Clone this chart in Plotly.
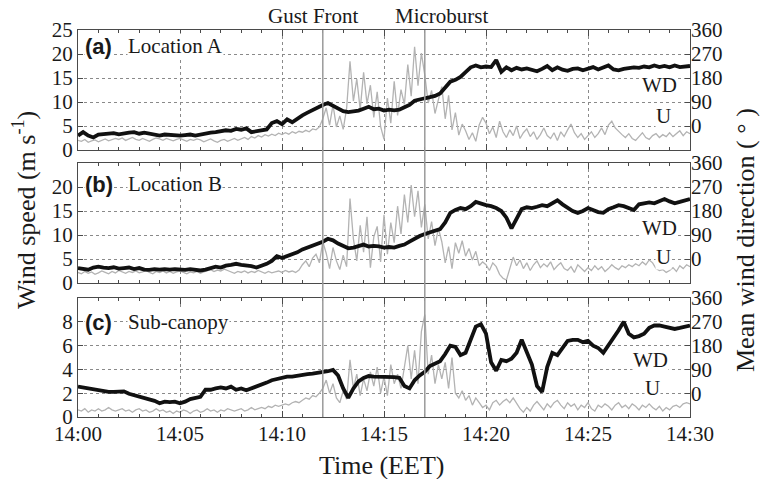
import numpy as np
import plotly.graph_objects as go

# ---------------- data ----------------
time_ticks = [0, 5, 10, 15, 20, 25, 30]
time_labels = ["14:00", "14:05", "14:10", "14:15", "14:20", "14:25", "14:30"]

# wind speed U (m/s), 10-s samples from 14:00 to 14:30
u_a = [2.0, 1.8, 2.2, 1.6, 1.9, 2.1,
       1.7, 2.0, 2.3, 1.9, 2.1, 2.4,
       2.2, 2.5, 2.0, 2.3, 2.6, 2.2,
       2.0, 2.4, 2.1, 1.8, 2.2, 2.5,
       2.3, 2.0, 2.4, 2.1, 1.9, 2.2,
       2.4, 2.1, 1.8, 2.2, 2.0, 2.3,
       2.1, 1.7, 2.0, 2.3, 1.9, 1.6,
       2.0, 2.2, 1.8, 2.1, 2.4, 2.0,
       2.3, 2.6, 2.2, 2.8, 2.5, 3.0,
       2.7, 3.2, 2.9, 3.3, 3.0, 3.5,
       3.2, 3.6, 3.3, 3.8, 3.5, 3.9,
       3.7, 4.1, 3.8, 4.4, 4.2, 4.8,
       6.5, 8.8, 5.2, 9.4, 4.8, 7.1,
       4.3, 8.6, 18.5, 10.2, 14.8, 8.4,
       16.2, 9.6, 13.5, 6.8, 12.1, 4.9,
       2.2, 10.8, 5.6, 14.3, 7.2, 12.6,
       9.5, 17.8, 11.2, 21.5, 13.4, 20.2,
       15.6, 9.8, 12.4, 7.6, 10.5, 13.2,
       6.5, 11.4, 4.2, 7.8, 3.1, 5.4,
       4.0, 2.2, 3.6, 1.8, 5.2, 6.8,
       5.6, 3.4, 4.8, 2.6, 6.0, 3.8,
       2.6, 4.2, 3.0, 5.0, 2.4, 3.6,
       4.4, 2.8, 3.8, 2.2, 3.2, 4.6,
       3.0, 2.4, 3.6, 2.0, 3.8, 2.8,
       4.2, 5.4, 3.6, 2.6, 3.4, 2.2,
       3.0, 3.8, 2.6, 3.4, 4.6, 3.2,
       5.2, 6.0, 4.6, 3.8, 3.2, 2.6,
       3.4, 2.4, 2.0, 2.8, 3.6, 2.6,
       2.2, 3.0, 3.4, 2.6, 3.2, 2.8,
       3.6, 2.8, 3.4, 4.0, 3.0, 3.8,
       3.4]

u_b = [2.2, 1.9, 2.4, 2.0, 2.3, 1.8,
       2.1, 2.5, 2.2, 1.9, 2.4, 2.1,
       2.6, 2.3, 2.0, 2.4, 2.2, 2.5,
       2.1, 2.3, 2.6, 2.2, 1.9, 2.4,
       2.2, 2.5, 2.1, 2.4, 2.0, 2.3,
       2.5, 2.2, 1.9, 2.3, 2.1, 2.4,
       2.0, 2.3, 2.6, 2.8, 2.4, 2.7,
       2.5, 2.9, 2.6, 2.3, 2.0, 2.4,
       2.2, 2.5, 2.1, 2.4, 2.2, 2.6,
       2.3, 2.0, 2.4, 2.1, 2.3, 2.5,
       2.2, 2.6, 2.3, 2.5, 2.2, 2.7,
       3.8, 4.6, 3.4, 5.2, 6.0, 4.2,
       8.6, 6.2, 3.0, 7.4, 4.6, 2.8,
       5.8, 3.4, 17.6, 9.2, 4.6, 12.0,
       6.4, 13.8, 3.2, 9.6, 11.8, 4.4,
       14.2, 6.0, 12.6, 8.4, 16.0, 10.2,
       18.4, 12.6, 20.4, 13.8, 19.2, 11.6,
       16.4, 9.2, 12.8, 7.8, 11.4, 8.6,
       4.2, 7.6, 3.0, 8.4, 6.2, 8.8,
       5.6, 7.2, 4.8, 6.6, 3.6, 4.4,
       3.8, 2.6, 4.2, 3.4, 1.8, 1.0,
       0.6, 2.8, 5.4, 3.6, 4.8, 3.0,
       4.2, 2.6, 3.8, 4.6, 3.2, 4.0,
       3.4, 4.4, 2.8, 3.6, 4.2, 3.0,
       2.6, 3.4, 2.2, 3.8, 3.0, 2.4,
       3.2, 2.6, 3.6, 2.8, 3.4, 2.4,
       3.0, 3.8, 3.2, 2.8, 3.6, 3.2,
       3.8, 3.4, 4.0, 3.6, 4.4, 3.8,
       4.8, 4.2, 3.0, 2.6, 2.8, 2.2,
       2.6, 3.2, 2.4, 3.6, 3.0, 3.8,
       3.4]

u_c = [0.6, 0.5, 0.7, 0.4, 0.6, 0.5,
       0.7, 0.5, 0.6, 0.8, 0.6, 0.5,
       0.6, 0.7, 0.5, 0.6, 0.4, 0.6,
       0.7, 0.5, 0.6, 0.4, 0.5, 0.7,
       0.5, 0.6, 0.4, 0.5, 0.3, 0.5,
       0.4, 0.6, 0.5, 0.3, 0.5, 0.6,
       0.4, 0.5, 0.7, 0.5, 0.6, 0.4,
       0.6, 0.5, 0.7, 0.6, 0.5, 0.6,
       0.7, 0.5, 0.6, 0.8, 0.6, 0.7,
       0.8, 0.7, 0.9, 0.8, 1.0, 0.9,
       1.0, 1.1, 1.0, 1.2, 1.3, 1.2,
       1.4, 1.6, 1.5, 1.8, 1.7, 2.0,
       2.4, 3.1, 2.0, 2.8, 1.6, 1.2,
       2.2, 1.5, 4.8, 2.4, 3.6, 1.8,
       3.2, 2.2, 3.8, 2.6, 4.2, 2.0,
       3.4, 1.8, 4.4, 2.8, 3.6, 2.4,
       4.2, 6.0, 3.2, 5.6, 2.8, 7.2,
       8.6, 3.6, 5.2, 2.8, 4.4, 3.2,
       4.6, 2.4, 5.0, 2.0, 1.6, 2.2,
       1.4, 1.8, 1.0, 1.6, 1.2, 0.8,
       1.0, 0.6, 1.2, 1.4, 1.0, 1.3,
       1.5, 1.2, 1.6, 1.1, 0.7, 0.4,
       0.8, 0.5, 1.0, 1.3, 0.9, 0.6,
       1.1, 0.8, 1.2, 1.4, 1.0, 0.7,
       1.2, 0.9, 1.1, 0.6, 1.0, 0.8,
       1.2, 0.7, 0.5, 1.0, 0.8, 1.1,
       0.9, 0.6, 1.0, 1.2, 0.8, 1.0,
       0.7, 1.1, 0.9, 0.6, 1.0, 0.8,
       1.1, 0.8, 0.6, 0.9, 0.5, 0.8,
       0.6, 0.9, 1.0, 0.8, 1.1, 1.2,
       1.1]

# mean wind direction WD (degrees), 15-s samples from 14:00 to 14:30
wd_a = [-36, -23, -36, -43, -32, -31, -29, -27, -31, -27, -25, -23,
        -29, -25, -29, -32, -36, -32, -34, -36, -36, -34, -32, -36,
        -32, -27, -25, -23, -20, -16, -18, -11, -14, -9, -23, -20,
        -16, -13, 11, 18, 7, 25, 14, 29, 40, 50, 61, 70,
        79, 86, 77, 65, 56, 52, 54, 58, 65, 72, 63, 65,
        58, 61, 59, 61, 70, 79, 95, 101, 104, 108, 113, 122,
        144, 166, 173, 184, 202, 220, 227, 220, 223, 221, 247, 203,
        220, 209, 218, 212, 216, 211, 205, 214, 225, 209, 220, 211,
        207, 214, 216, 209, 214, 221, 212, 220, 227, 212, 209, 214,
        216, 220, 218, 223, 220, 227, 221, 225, 220, 227, 221, 223,
        225]

wd_b = [-34, -38, -40, -32, -29, -32, -34, -31, -36, -34, -32, -38,
        -34, -40, -41, -38, -40, -38, -40, -38, -40, -41, -38, -40,
        -43, -40, -34, -29, -32, -25, -22, -18, -22, -23, -27, -32,
        -25, -18, -7, 11, 4, 11, 18, 25, 36, 43, 49, 58,
        65, 76, 70, 58, 47, 40, 43, 50, 54, 47, 49, 47,
        43, 45, 43, 49, 54, 65, 77, 86, 94, 99, 106, 112,
        137, 173, 184, 191, 187, 198, 214, 207, 202, 198, 191, 180,
        155, 115, 148, 187, 194, 191, 196, 202, 198, 209, 220, 205,
        191, 180, 173, 180, 191, 184, 176, 173, 187, 194, 202, 198,
        191, 184, 205, 209, 212, 209, 216, 225, 216, 209, 214, 220,
        225]

wd_c = [25, 22, 18, 13, 11, 9, 5, 5, 5, 7, -2, -7,
        -14, -18, -22, -29, -38, -32, -34, -32, -38, -32, -22, -18,
        -14, 13, 13, 18, 22, 18, 25, 13, 18, 11, 18, 25,
        31, 40, 49, 54, 58, 63, 63, 67, 70, 72, 74, 76,
        79, 83, 88, 67, 18, -18, 18, 45, 58, 65, 63, 63,
        61, 63, 61, 58, 27, 18, 49, 67, 81, 103, 112, 121,
        148, 180, 175, 144, 153, 198, 252, 261, 225, 117, 85, 126,
        121, 130, 153, 202, 153, 108, 27, 5, 99, 153, 144, 171,
        198, 202, 202, 193, 198, 180, 171, 153, 180, 211, 238, 270,
        225, 211, 216, 225, 247, 256, 256, 252, 247, 243, 247, 252,
        256]

panel_tags = ["(a)", "(b)", "(c)"]
panel_names = ["Location A", "Location B", "Sub-canopy"]
left_ranges = [[0, 25], [0, 25], [0, 10]]
left_ticks = [[0, 5, 10, 15, 20, 25], [0, 5, 10, 15, 20], [0, 2, 4, 6, 8]]
right_range = [-90, 360]
right_ticks = [0, 90, 180, 270, 360]
gust_front_t = 12.0
microburst_t = 17.0

# ---------------- layout geometry ----------------
W, H = 762, 479
def px(x):
    return x / W
def py(y):
    return 1 - y / H

x_dom = [px(78), px(690)]
row_px = [(30, 150), (163, 283), (298, 417)]
y_doms = [[py(b), py(t)] for (t, b) in row_px]

SERIF = "Liberation Serif"
TICK_FONT = dict(family=SERIF, size=21, color="#1a1a1a")
AX_COLOR = "#4a4a4a"
GRID_COLOR = "#8a8a8a"
TXT = "#1a1a1a"

fig = go.Figure()
u_all = [u_a, u_b, u_c]
wd_all = [wd_a, wd_b, wd_c]

for i in range(3):
    xa = "x" if i == 0 else f"x{i+1}"
    yl = "y" if i == 0 else f"y{2*i+1}"
    yr = f"y{2*i+2}"
    tu = np.linspace(0, 30, len(u_all[i]))
    tw = np.linspace(0, 30, len(wd_all[i]))
    fig.add_trace(go.Scatter(x=tu, y=u_all[i], mode="lines", xaxis=xa, yaxis=yl,
                             line=dict(color="#b3b3b3", width=1.3), showlegend=False))
    fig.add_trace(go.Scatter(x=tw, y=wd_all[i], mode="lines", xaxis=xa, yaxis=yr,
                             line=dict(color="#111111", width=3.8), showlegend=False))

layout = dict(
    width=W, height=H, margin=dict(l=0, r=0, t=0, b=0, autoexpand=False),
    paper_bgcolor="white", plot_bgcolor="white", showlegend=False,
)

for i in range(3):
    xk = "xaxis" if i == 0 else f"xaxis{i+1}"
    ylk = "yaxis" if i == 0 else f"yaxis{2*i+1}"
    yrk = f"yaxis{2*i+2}"
    yl_name = "y" if i == 0 else f"y{2*i+1}"
    xa_name = "x" if i == 0 else f"x{i+1}"
    layout[xk] = dict(
        domain=x_dom, anchor=yl_name, range=[0, 30], automargin=False,
        tickvals=time_ticks, ticktext=time_labels,
        showticklabels=(i == 2), tickfont=TICK_FONT, ticklabelstandoff=-2,
        ticks="inside", ticklen=6, tickcolor=AX_COLOR,
        showline=True, linecolor=AX_COLOR, linewidth=1, mirror="ticks",
        showgrid=True, gridcolor=GRID_COLOR, griddash="dot", gridwidth=1,
        zeroline=False,
        minor=dict(dtick=1, ticks="inside", ticklen=3, tickcolor=AX_COLOR, showgrid=False),
    )
    layout[ylk] = dict(
        domain=y_doms[i], anchor=xa_name, range=left_ranges[i], automargin=False,
        tickvals=left_ticks[i], tickfont=TICK_FONT,
        ticks="inside", ticklen=5, tickcolor=AX_COLOR,
        showline=True, linecolor=AX_COLOR, linewidth=1, mirror=True,
        showgrid=True, gridcolor=GRID_COLOR, griddash="dot", gridwidth=1,
        zeroline=False,
    )
    layout[yrk] = dict(
        overlaying=yl_name, side="right", anchor=xa_name, range=right_range, automargin=False,
        tickvals=right_ticks, tickfont=TICK_FONT,
        ticks="inside", ticklen=5, tickcolor=AX_COLOR,
        showline=False, showgrid=False, zeroline=False,
    )

fig.update_layout(**layout)

# event lines through all panels
for t in (gust_front_t, microburst_t):
    fig.add_shape(type="line", xref="x3", yref="paper", x0=t, x1=t,
                  y0=py(417), y1=py(30), line=dict(color="#9a9a9a", width=1.5))

def txt(text, x, y, size=21, family=SERIF, angle=0, bg=None, xanchor="center"):
    d = dict(text=text, x=px(x), y=py(y), xref="paper", yref="paper",
             xanchor=xanchor, yanchor="middle", showarrow=False, textangle=angle,
             font=dict(family=family, size=size, color=TXT))
    if bg:
        d.update(bgcolor=bg, borderpad=0)
    return d

ann = [txt("Gust Front", 313, 16), txt("Microburst", 441, 16)]

label_y = [46, 184, 322]
wd_pos = [(659, 85), (659, 228), (650, 360)]
u_pos = [(663, 116), (663, 257), (652, 388)]
for i in range(3):
    ann.append(txt("<b>" + panel_tags[i] + "</b>", 84, label_y[i], size=22,
                   family="Liberation Sans", bg="white", xanchor="left"))
    ann.append(txt(panel_names[i], 127, label_y[i], bg="white", xanchor="left"))
    ann.append(txt("WD", wd_pos[i][0], wd_pos[i][1], bg="white"))
    ann.append(txt("U", u_pos[i][0], u_pos[i][1], bg="white"))

ann.append(txt("Wind speed (m s<sup>-1</sup>)", 24, 210, size=26, angle=-90))
ann.append(txt("Mean wind direction ( ° )", 745, 240, size=26, angle=-90))
ann.append(txt("Time (EET)", 381, 465, size=26))

fig.update_layout(annotations=ann)
fig.write_html("out.html")
